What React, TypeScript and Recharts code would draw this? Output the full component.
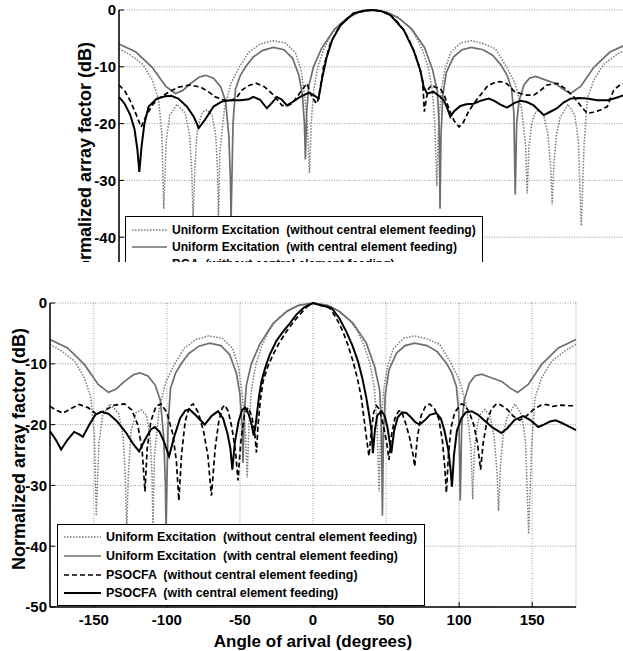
import { LineChart, Line, XAxis, YAxis, CartesianGrid, Legend } from 'recharts'

// angle (deg) / normalized array factor (dB) pairs
const uniformWithout = [
  [-180, -6.8], [-172, -7.9], [-163, -9.6], [-156.5, -12.3], [-152, -15.6], [-149.6, -22], [-148.3, -35],
  [-146.5, -23], [-144, -18.5], [-139, -16.6], [-133, -18.2], [-130, -22], [-128.5, -28], [-127.5, -37],
  [-126.3, -28], [-124.5, -21], [-121, -18], [-117.5, -17.6], [-114, -18.5], [-111.5, -22], [-110.2, -28],
  [-109.5, -37], [-108.5, -25], [-105.2, -17.2], [-100.6, -12.9], [-94.9, -10.1], [-88, -7.4], [-80, -6],
  [-71.5, -5.4], [-62, -5.8], [-55, -7.5], [-51, -10.5], [-48.5, -15], [-46.5, -20], [-45, -28.7],
  [-43.8, -20], [-42, -14], [-39, -10], [-35, -7], [-30, -4.5], [-25, -2.8], [-18, -1.3], [-10, -0.4], [0, 0],
  [10, -0.4], [18, -1.3], [25, -2.8], [30, -4.5], [35, -7], [39, -10], [42, -14], [43.8, -20], [45.2, -31],
  [46.5, -20], [48.5, -14], [51, -10.5], [55, -7.5], [62, -5.8], [69.6, -5.4], [78, -5.9], [86.7, -6.8],
  [94.9, -10.1], [100.6, -12.9], [105.2, -17.2], [108.1, -23.8], [109.3, -32.3], [110.5, -24], [112.5, -20],
  [114.5, -18.3], [117.7, -17.5], [121, -18.5], [124, -22], [126, -28], [127, -34.2], [128.2, -27],
  [130, -22], [132.5, -19], [138.2, -16.6], [143, -18.5], [145.5, -23], [147.6, -38], [149.6, -23.8],
  [151.9, -15.6], [156.5, -12.3], [163.3, -9.6], [172.4, -7.9], [180, -6.8],
]

const uniformWith = [
  [-180, -6], [-168, -7.4], [-156.5, -10.1], [-147, -13.4], [-140, -14.7], [-135, -14.2], [-129, -12.9],
  [-123, -11.8], [-118.5, -11.5], [-113, -12], [-108, -13.5], [-104.5, -16], [-102.2, -22], [-101, -30],
  [-100.6, -37], [-100, -30], [-99.2, -20], [-97.5, -14], [-94, -11.5], [-90, -9.9], [-85, -8.3],
  [-78, -7.1], [-70.7, -6.6], [-63, -7], [-57, -8.5], [-52.5, -11.5], [-50, -15], [-48.6, -20],
  [-47.9, -26.3], [-47, -18], [-45.6, -13.5], [-42.2, -10], [-36.5, -6.8], [-27.4, -3.4], [-18, -1.4],
  [-10, -0.4], [0, 0], [10, -0.4], [18, -1.4], [27.4, -3.3], [36.5, -6.6], [42.2, -10.5], [45.6, -14.3],
  [46.8, -20], [47.5, -35], [48.2, -22], [49.5, -15], [52, -11], [57, -8.3], [63, -7], [69.6, -6.6],
  [78, -7], [85, -8], [91.3, -9.9], [95, -11.5], [98.1, -13.7], [99.8, -18], [100.8, -32.5], [101.8, -20],
  [103.5, -16], [107, -13.2], [110.8, -12], [115.4, -11.7], [122, -12.3], [129.1, -12.9], [135, -14],
  [140, -14.7], [147.3, -13.4], [156.5, -10.1], [167.9, -7.4], [180, -6],
]

const psoWithout = [
  [-180, -17], [-176, -17.6], [-171, -18.1], [-166, -17.4], [-160, -16.7], [-154, -17.2], [-148, -18.3],
  [-142, -17.6], [-136, -16.8], [-129, -16.6], [-124, -17.6], [-120, -20], [-117, -24], [-115, -31],
  [-113.5, -24], [-111, -19.5], [-107.5, -17], [-104, -16.6], [-100, -18], [-96, -21.5], [-93.5, -26],
  [-91.8, -32.5], [-90, -25], [-87.5, -19.5], [-84.5, -17], [-82, -16.6], [-78.5, -18], [-75, -21],
  [-72, -25], [-69.5, -31.7], [-67, -24], [-64.5, -19.5], [-62, -17.2], [-60.4, -16.8], [-58, -17.8],
  [-55.5, -20.5], [-53, -24.5], [-51.3, -29.2], [-49.5, -23], [-47, -18.5], [-44.5, -17.2], [-42, -18.5],
  [-40, -21], [-38.7, -24.6], [-37.6, -20], [-36, -16], [-34.2, -12.9], [-31, -10.5], [-27.4, -8.5],
  [-23, -6.5], [-18.2, -4.7], [-13, -3], [-9.1, -1.9], [-4, -0.6], [0, 0], [4, -0.3], [11.4, -0.8],
  [16, -2.5], [20.5, -4.7], [24, -7], [27.4, -9.6], [30.5, -12.5], [33.1, -15.6], [36, -21.1],
  [38.3, -25.2], [40, -21], [41.5, -18], [43.4, -16.9], [45.5, -17.5], [48, -20], [50.5, -23],
  [52, -25.8], [53.5, -22], [56, -19], [58.5, -17.8], [60.5, -17.8], [63, -19.5], [66, -22], [68.5, -25],
  [69.6, -26.9], [71.5, -22], [74, -18.5], [77, -17], [79.8, -16.6], [83, -17.3], [86, -19], [88.5, -22.5],
  [90.2, -27], [91.3, -31.2], [92.7, -25], [94.5, -20.5], [97, -18], [101.5, -16.6], [104, -16.8],
  [107, -18], [110, -20], [112.5, -23], [114.7, -27.4], [116.5, -23], [119, -19.5], [122, -17.5],
  [125.5, -16.6], [128, -16.7], [133, -17.5], [137, -18.6], [141.5, -19.3], [146, -18.6], [151, -17.5],
  [156, -16.8], [160, -16.7], [164, -17], [170, -16.8], [175, -16.9], [180, -16.9],
]

const psoWith = [
  [-180, -21.1], [-176, -22.5], [-172.4, -24.1], [-168, -22.5], [-163.5, -21.2], [-160, -21.6],
  [-157.5, -22], [-153, -20], [-149, -18.4], [-145, -17.9], [-140, -18.2], [-134, -19.5], [-128, -21.3],
  [-123, -23.2], [-119, -24.4], [-115, -22.5], [-111, -20.8], [-108.3, -20.4], [-105, -21.2], [-102, -22.8],
  [-98.5, -25.2], [-95, -22], [-91, -19], [-87.5, -17.7], [-84.5, -17.5], [-80, -18.5], [-74.1, -20],
  [-69.5, -18.6], [-65, -17.8], [-61.5, -19], [-58.5, -21.5], [-56.5, -24], [-55.2, -27.4], [-53.5, -23],
  [-51, -19.5], [-48.5, -17.6], [-46.5, -17.2], [-44, -18.3], [-42, -20], [-40.6, -21.8], [-39.5, -20.5],
  [-38.7, -18.9], [-37, -15.5], [-35.3, -12.9], [-32.5, -10.5], [-29.6, -8.5], [-25, -6.2], [-20.5, -4.7],
  [-16, -3.4], [-11.4, -1.9], [-6, -0.7], [0, 0], [6, -0.4], [12.6, -0.8], [18, -2.5], [22.8, -4.7],
  [27, -7], [30.8, -9.6], [33.8, -12.4], [36.5, -15.6], [38.5, -18.5], [40, -21], [41, -24.7], [42.3, -21],
  [44, -18.5], [46.8, -17.8], [49, -18.5], [51, -20.5], [53.6, -24.7], [55.5, -21], [58, -18.8], [61, -18],
  [63.9, -18.1], [67, -18.8], [70, -19.6], [73, -20], [76.5, -19.3], [80, -18.4], [84.4, -18.1],
  [87.5, -19], [90, -21], [92.5, -24], [94, -27], [95.1, -30.2], [96.5, -25], [98.5, -21], [101.5, -19],
  [104.5, -18], [108.6, -17.8], [113, -18.4], [117.7, -19.4], [123, -20.5], [129, -21.4], [133, -20.6],
  [138, -19.2], [143.9, -18.6], [149, -19.3], [154.2, -20.4], [158, -20], [162.2, -19.5], [166, -19.3],
  [170, -19.7], [175, -20.3], [180, -20.9],
]

const bgaWithout = [
  [-180, -13.2], [-176, -14.2], [-172, -16], [-168, -18.3], [-164.3, -20.6], [-160.5, -18.5], [-156, -16.6],
  [-152, -15.6], [-145, -14.5], [-138, -13.6], [-130, -13.2], [-122, -13.6], [-116, -14.5], [-111.8, -15.3],
  [-104.7, -15.9], [-100, -15.9], [-96, -15.2], [-92.9, -14.1], [-88, -13.3], [-83, -12.9], [-77, -13.5],
  [-71.6, -14.7], [-67, -16], [-64.5, -16.8], [-61, -16.9], [-57.4, -16.5], [-53, -15], [-50.4, -14.1],
  [-46.8, -12.9], [-43.3, -15.3], [-40, -16.5], [-38.6, -15.6], [-35, -10], [-30.3, -5.9], [-23.2, -2.6],
  [-13.8, -0.6], [-6, -0.1], [0, 0], [6, -0.2], [12.3, -0.9], [17, -2], [21.7, -3.5], [25.5, -5.2],
  [28.8, -7.1], [31.5, -9], [33.5, -10.6], [35.2, -12.5], [36.4, -17.9], [38, -15.3], [39.5, -13.8],
  [41.8, -13.2], [44, -13.6], [47.7, -13.8], [50.5, -15], [54, -17.5], [57.5, -19.5], [61, -20.6],
  [64, -19.8], [67.5, -18], [71.3, -16.5], [76, -15], [80.8, -13.5], [85, -12.9], [90.3, -12.6], [95, -13],
  [100, -14.3], [104.5, -14.7], [109, -15], [113.9, -15], [118, -14.3], [123.4, -13.2], [130.5, -12.9],
  [136, -13.8], [142.3, -15.3], [147, -16.8], [151.8, -18.2], [156, -18], [161.2, -17.6], [166, -17],
  [170.6, -14.1], [175, -13.2], [180, -12.8],
]

const bgaWith = [
  [-180, -15.3], [-176, -16.5], [-172, -18.5], [-169, -21], [-167, -24.5], [-165.6, -28.5], [-164, -24],
  [-162, -20], [-159, -17], [-153.2, -15.6], [-147, -15.2], [-143, -15.1], [-138, -15.6], [-131.9, -17],
  [-127, -18.8], [-123.5, -20.8], [-119, -19.3], [-113, -17], [-107, -16.1], [-101.2, -15.9], [-94, -15.9],
  [-88, -15.7], [-84.7, -15.3], [-80, -15.8], [-75.2, -17.3], [-71.5, -16.3], [-68.1, -15.3], [-64.5, -15.8],
  [-61, -16.8], [-57, -16.2], [-51.6, -15.3], [-45.7, -14.6], [-42, -15], [-38.6, -15.6], [-36, -12],
  [-33, -8.5], [-29, -5.3], [-23, -2.7], [-14, -0.6], [-6, -0.1], [0, 0], [6, -0.2], [12.3, -0.9],
  [21.7, -3.5], [28.8, -7.1], [33.5, -10.6], [35.9, -13.5], [38.3, -14.7], [43, -14.4], [47.7, -15.3],
  [50.1, -15.9], [52.5, -17.2], [54.8, -18.8], [57.5, -17.8], [61.9, -16.9], [66, -16.6], [71.3, -16.5],
  [76, -16], [82, -15.6], [86, -16], [90, -16.6], [95, -17.2], [100, -16.4], [104.5, -16], [109, -16.2],
  [113.9, -16.8], [118, -17.8], [121, -18.5], [125, -18], [130.5, -17.3], [135, -16.3], [140, -15.6],
  [146, -15.5], [151.8, -15.6], [158.9, -15.9], [166, -15.9], [172, -15.5], [177.7, -15], [180, -14.9],
]

const xTicks = [-150, -100, -50, 0, 50, 100, 150]
const yTicks = [-50, -40, -30, -20, -10, 0]
// the upper figure is cropped above its -50 line
const topYTicks = [-40, -30, -20, -10, 0]

const FONT = '"Liberation Sans", Arial, Helvetica, sans-serif'

const toPts = (arr: number[][]) => arr.map(([x, y]) => ({ x, y }))

type Series = { name: string; data: number[][]; color: string; width: number; dash?: string }

const styles = {
  dotted: { color: '#7a7a7a', width: 1.5, dash: '1.5 1.5' },
  gray: { color: '#6e6e6e', width: 1.7 },
  dashed: { color: '#000', width: 1.7, dash: '5 3' },
  solid: { color: '#000', width: 2 },
}

const topSeries: Series[] = [
  { name: 'Uniform Excitation  (without central element feeding)', data: uniformWithout, ...styles.dotted },
  { name: 'Uniform Excitation  (with central element feeding)', data: uniformWith, ...styles.gray },
  { name: 'BGA  (without central element feeding)', data: bgaWithout, ...styles.dashed },
  { name: 'BGA  (with central element feeding)', data: bgaWith, ...styles.solid },
]

const bottomSeries: Series[] = [
  { name: 'Uniform Excitation  (without central element feeding)', data: uniformWithout, ...styles.dotted },
  { name: 'Uniform Excitation  (with central element feeding)', data: uniformWith, ...styles.gray },
  { name: 'PSOCFA  (without central element feeding)', data: psoWithout, ...styles.dashed },
  { name: 'PSOCFA  (with central element feeding)', data: psoWith, ...styles.solid },
]

interface LegendCfg {
  left: number
  top: number
  width: number
  rowH: number
  lineW: number
  padTop: number
  fontSize: number
  rows: number
}

function LegendBox({ items, cfg }: { items: Series[]; cfg: LegendCfg }) {
  return (
    <div
      style={{
        border: '1.5px solid #000',
        background: '#fff',
        padding: `${cfg.padTop}px 0 2px 6px`,
        boxSizing: 'border-box',
        width: '100%',
      }}
    >
      {items.slice(0, cfg.rows).map((it) => (
        <div key={it.name} style={{ display: 'flex', alignItems: 'center', height: cfg.rowH }}>
          <svg width={cfg.lineW} height={6} style={{ marginRight: 5, flex: 'none' }}>
            <line x1={0} y1={3} x2={cfg.lineW} y2={3} stroke={it.color} strokeWidth={it.width} strokeDasharray={it.dash} />
          </svg>
          <span style={{ fontFamily: FONT, fontWeight: 700, fontSize: cfg.fontSize, whiteSpace: 'pre', color: '#000' }}>
            {it.name}
          </span>
        </div>
      ))}
    </div>
  )
}

interface PanelProps {
  width: number
  height: number
  top: number
  right: number
  yAxisWidth: number
  yTickList: number[]
  series: Series[]
  legend: LegendCfg
  yLabel: { dx: number; dy: number }
  showX: boolean
}

function Panel({ width, height, top, right, yAxisWidth, yTickList, series, legend, yLabel, showX }: PanelProps) {
  const tickStyle = { fontFamily: FONT, fontWeight: 700, fontSize: 15, fill: '#000' }
  return (
    <LineChart width={width} height={height} margin={{ top, right, bottom: 0, left: 0 }}>
      <CartesianGrid xAxisId="b" yAxisId="l" stroke="#9a9a9a" strokeDasharray="1 1.5" />
      <XAxis
        xAxisId="b"
        type="number"
        dataKey="x"
        domain={[-180, 180]}
        ticks={xTicks}
        height={44}
        tickSize={-5}
        tickMargin={12}
        tick={showX ? tickStyle : false}
        axisLine={{ stroke: '#000', strokeWidth: 1.5 }}
        tickLine={{ stroke: '#000' }}
        label={
          showX
            ? { value: 'Angle of arival (degrees)', position: 'center', dy: 12, style: { fontFamily: FONT, fontWeight: 700, fontSize: 17, fill: '#000' } }
            : undefined
        }
      />
      <XAxis
        xAxisId="t"
        orientation="top"
        type="number"
        dataKey="x"
        domain={[-180, 180]}
        ticks={xTicks}
        height={0}
        tick={false}
        tickSize={-5}
        axisLine={{ stroke: '#000', strokeWidth: 1.5 }}
        tickLine={{ stroke: '#000' }}
      />
      <YAxis
        yAxisId="l"
        type="number"
        domain={[-50, 0]}
        ticks={yTickList}
        width={yAxisWidth}
        tickSize={-5}
        tickMargin={8}
        tick={tickStyle}
        axisLine={{ stroke: '#000', strokeWidth: 1.5 }}
        tickLine={{ stroke: '#000' }}
        label={{
          value: 'Normalized array factor (dB)',
          angle: -90,
          position: 'center',
          dx: yLabel.dx,
          dy: yLabel.dy,
          style: { fontFamily: FONT, fontWeight: 700, fontSize: 18, fill: '#000' },
        }}
      />
      <YAxis
        yAxisId="r"
        orientation="right"
        type="number"
        domain={[-50, 0]}
        ticks={yTickList}
        width={0}
        tick={false}
        tickSize={-5}
        axisLine={{ stroke: '#000', strokeWidth: 1.5 }}
        tickLine={{ stroke: '#000' }}
      />
      {series.map((s) => (
        <Line
          key={s.name}
          xAxisId="b"
          yAxisId="l"
          data={toPts(s.data)}
          dataKey="y"
          name={s.name}
          type="linear"
          stroke={s.color}
          strokeWidth={s.width}
          strokeDasharray={s.dash}
          dot={false}
          activeDot={false}
          isAnimationActive={false}
        />
      ))}
      <Legend
        layout="vertical"
        align="center"
        verticalAlign="middle"
        wrapperStyle={{ left: legend.left, top: legend.top, width: legend.width, height: 'auto' }}
        content={() => <LegendBox items={series} cfg={legend} />}
      />
    </LineChart>
  )
}

export default function App() {
  return (
    <div style={{ position: 'absolute', left: 0, top: 0, width: 623, height: 651, overflow: 'hidden', background: '#fff' }}>
      <div style={{ position: 'absolute', left: 0, top: 0, width: 623, height: 262, overflow: 'hidden' }}>
        <Panel
          width={640}
          height={338}
          top={10}
          right={13}
          yAxisWidth={119}
          yTickList={topYTicks}
          series={topSeries}
          legend={{ left: 125, top: 216, width: 358, rowH: 17.4, lineW: 35, padTop: 4, fontSize: 12.1, rows: 3 }}
          yLabel={{ dx: 25, dy: 11 }}
          showX={false}
        />
      </div>
      <div style={{ position: 'absolute', left: 0, top: 290, width: 623, height: 361, overflow: 'hidden' }}>
        <Panel
          width={590}
          height={361}
          top={13}
          right={14}
          yAxisWidth={50}
          yTickList={yTicks}
          series={bottomSeries}
          legend={{ left: 57, top: 234, width: 368, rowH: 18.7, lineW: 37, padTop: 3, fontSize: 12.4, rows: 4 }}
          yLabel={{ dx: -6.5, dy: -6 }}
          showX
        />
      </div>
    </div>
  )
}
